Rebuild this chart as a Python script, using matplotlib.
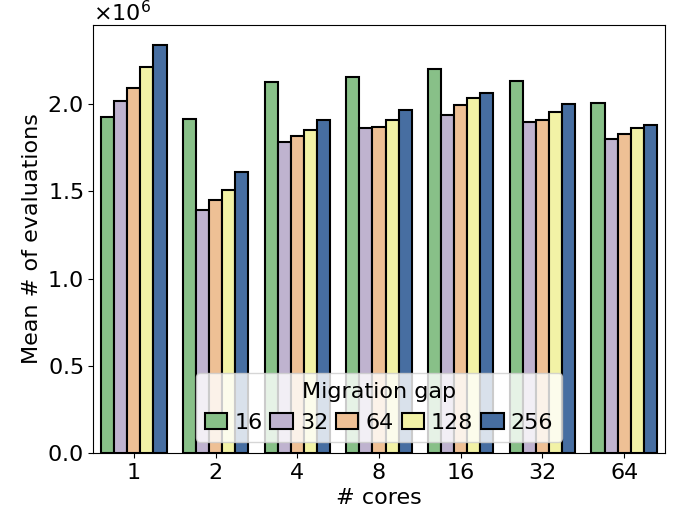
import matplotlib
matplotlib.use("Agg")
import matplotlib.pyplot as plt
import numpy as np
import seaborn as sns

cores = ["1", "2", "4", "8", "16", "32", "64"]
gaps = ["16", "32", "64", "128", "256"]

# mean number of evaluations per migration gap, one value per core count
gap_16 = [1.927e6, 1.914e6, 2.127e6, 2.157e6, 2.204e6, 2.131e6, 2.008e6]
gap_32 = [2.019e6, 1.391e6, 1.783e6, 1.867e6, 1.939e6, 1.900e6, 1.800e6]
gap_64 = [2.092e6, 1.449e6, 1.816e6, 1.871e6, 1.997e6, 1.910e6, 1.829e6]
gap_128 = [2.215e6, 1.506e6, 1.854e6, 1.911e6, 2.035e6, 1.958e6, 1.864e6]
gap_256 = [2.338e6, 1.610e6, 1.910e6, 1.967e6, 2.065e6, 2.002e6, 1.883e6]
series = [gap_16, gap_32, gap_64, gap_128, gap_256]

colors = sns.color_palette("Accent", 5, desat=0.75)

plt.rcParams["font.family"] = ["DejaVu Sans"]
fs = 16
fig = plt.figure(figsize=(6.85, 5.17), dpi=100)
ax = fig.add_axes([0.1358, 0.1238, 0.8350, 0.8278])

x = np.arange(len(cores))
width = 0.8 / len(gaps)
for i, (label, vals) in enumerate(zip(gaps, series)):
    offset = (i - (len(gaps) - 1) / 2) * width
    ax.bar(x + offset, vals, width=width, color=colors[i], edgecolor="black",
           linewidth=1.5, label=label)

ax.set_xlim(-0.5, len(cores) - 0.5)
ax.set_xticks(x)
ax.set_xticklabels(cores)
ax.set_xlabel("# cores", fontsize=fs)
ax.set_ylabel("Mean # of evaluations", fontsize=fs)
ax.tick_params(labelsize=fs)
ax.ticklabel_format(style="sci", axis="y", scilimits=(0, 0), useMathText=True)
ax.yaxis.get_offset_text().set_fontsize(fs)

leg = ax.legend(title="Migration gap", loc="lower center", ncol=5, fontsize=fs,
                title_fontsize=fs, handlelength=1.0, handletextpad=0.32,
                columnspacing=0.36, borderaxespad=0.5)

fig.savefig("out.png", dpi=100)
